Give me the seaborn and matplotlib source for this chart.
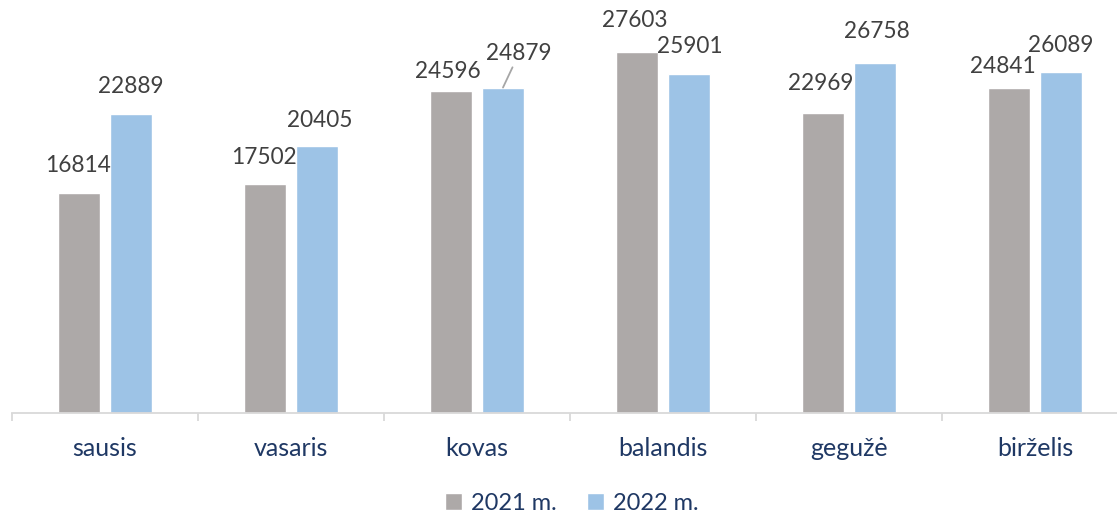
import matplotlib
matplotlib.use("Agg")
import matplotlib.pyplot as plt
import seaborn as sns
import pandas as pd
import numpy as np

months = ["sausis", "vasaris", "kovas", "balandis", "gegužė", "birželis"]
series_names = ["2021 m.", "2022 m."]
values_2021 = [16814, 17502, 24596, 27603, 22969, 24841]
values_2022 = [22889, 20405, 24879, 25901, 26758, 26089]

# label offsets in pixels (dx, dy above bar top) for readability
offs_2021 = [(-1, 28), (-1, 27), (-3, 20), (-2, 31), (-2, 29), (-6, 22)]
offs_2022 = [(0, 27), (3, 26), (16, 34), (1, 28), (2, 31), (0, 26)]

sns.set_theme(style="white")
plt.rcParams["font.family"] = ["Lato", "DejaVu Sans"]

df = pd.DataFrame({
    "month": months * 2,
    "year": [series_names[0]] * len(months) + [series_names[1]] * len(months),
    "value": values_2021 + values_2022,
})

W, H = 1117, 515
fig = plt.figure(figsize=(W / 100, H / 100), dpi=100)
ax = fig.add_axes([12 / W, (H - 413) / H, 1116 / W, 413 / H])

palette = {"2021 m.": "#ADA9A8", "2022 m.": "#9DC3E6"}
sns.barplot(data=df, x="month", y="value", hue="year", palette=palette,
            width=0.559, gap=0.19, ax=ax, saturation=1, legend=True)

ax.set_xlim(-0.5, 5.5)
ax.set_ylim(0, 31570)
ax.set_xlabel("")
ax.set_ylabel("")
ax.set_yticks([])
for s in ["left", "top", "right"]:
    ax.spines[s].set_visible(False)
ax.spines["bottom"].set_color("#D9D9D9")
ax.spines["bottom"].set_linewidth(1.3)

ax.set_xticks(np.arange(len(months)))
ax.set_xticklabels(months)
ax.set_xticks(np.arange(-0.5, len(months)), minor=True)
ax.tick_params(axis="x", which="major", length=0, pad=17, labelsize=18, labelcolor="#1F3864")
ax.tick_params(axis="x", which="minor", length=6, width=1.3, color="#D9D9D9", bottom=True, direction="out")

px = 72 / 100
conts = ax.containers
for ci, (cont, vals, offs) in enumerate(zip(conts, [values_2021, values_2022], [offs_2021, offs_2022])):
    for bar, v, (dx, dy) in zip(cont, vals, offs):
        xc = bar.get_x() + bar.get_width() / 2
        if ci == 1 and v == 24879:
            ax.annotate(str(v), xy=(xc, v), xytext=(dx * px, dy * px), textcoords="offset points",
                        ha="center", va="center", fontsize=16.3, color="#404040",
                        arrowprops=dict(arrowstyle="-", color="#A6A6A6", lw=1.3, shrinkA=0, shrinkB=0))
        else:
            ax.annotate(str(v), xy=(xc, v), xytext=(dx * px, dy * px), textcoords="offset points",
                        ha="center", va="center", fontsize=16.3, color="#404040")

leg = ax.legend(loc="center", bbox_to_anchor=(572 / W, 1 - 503 / H), bbox_transform=fig.transFigure,
                ncol=2, frameon=False, fontsize=17, handlelength=0.7, handleheight=0.7,
                handletextpad=0.4, columnspacing=1.3)
for t in leg.get_texts():
    t.set_color("#1F3864")

fig.savefig("out.png", dpi=100, facecolor="white")
